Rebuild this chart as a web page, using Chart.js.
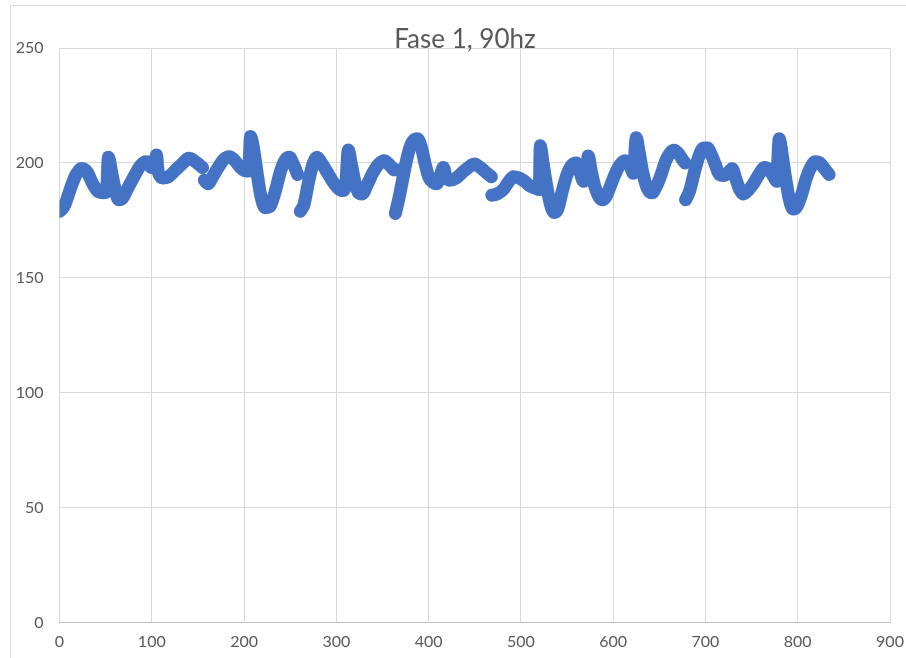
<!DOCTYPE html>
<html>
<head>
<meta charset="utf-8">
<script src="https://cdn.jsdelivr.net/npm/chart.js@4.4.1/dist/chart.umd.min.js"></script>
<style>
    html, body { margin: 0; padding: 0; background: #fff; overflow: hidden; }
    #frame { position: absolute; left: 10px; top: 5px; width: 1000px; height: 1000px; border: 1px solid #d9d9d9; pointer-events: none; }
    #wrap { position: absolute; left: 0; top: 0; width: 906px; height: 658px; }
</style>
</head>
<body>
<div id="wrap"><canvas id="chart"></canvas></div>
<div id="frame"></div>
<script>
const chartTitle = 'Fase 1, 90hz';
const xTicks = [0, 100, 200, 300, 400, 500, 600, 700, 800, 900];
const yTicks = [0, 50, 100, 150, 200, 250];

// segments of the measured trace (x, y); gaps between them
const seg1X = [0, 3, 6, 12, 18, 24, 30, 36, 42, 48, 51, 53, 56, 60, 64, 68, 74, 82, 88, 94, 100, 103, 105, 107, 112, 118, 126, 134, 140, 146, 152, 155];
const seg1Y = [179, 180, 182, 189, 195, 197.6, 196, 191, 187.5, 187, 187.5, 202.5, 197, 189, 184, 184.5, 189, 195, 199, 200.5, 198, 199, 203.5, 196, 193.5, 194, 197, 200, 202, 201, 199, 198];
const seg2X = [157, 161, 166, 172, 178, 184, 190, 196, 202, 205, 207, 210, 214, 218, 223, 228, 234, 240, 245, 249, 254, 258];
const seg2Y = [192.5, 191, 194, 198, 201.5, 202.7, 201, 198, 196.5, 196.5, 211.5, 207, 196, 186, 180.5, 181, 188, 197, 201.5, 202.5, 199, 195];
const seg3X = [261, 265, 270, 275, 279, 284, 290, 296, 302, 307, 310, 313, 316, 320, 324, 328, 334, 340, 346, 352, 358, 363, 365.5];
const seg3Y = [179, 182, 192, 200, 202.5, 200, 196, 192, 189, 188, 190, 205.6, 200, 192, 187, 186.5, 191, 196, 199.5, 201, 199, 197, 197];
const seg4X = [364, 368, 372, 376, 380, 384, 388, 392, 396, 400, 405, 409, 413, 416, 419, 423, 430, 437, 443, 450, 456, 462, 468];
const seg4Y = [178, 185, 193, 201, 207, 210, 210.5, 207, 200, 194, 191.5, 191, 195, 198, 194, 192.5, 193.5, 196, 198, 199.5, 198, 196, 194];
const seg5X = [468.5, 474, 481, 487, 492, 498, 504, 510, 516, 520, 521, 524, 528, 532, 536, 540, 545, 550, 555, 560, 564, 568, 571, 573, 576, 580, 585, 589, 593, 597, 602, 607, 613, 618, 622, 625, 628, 632, 637, 642, 647, 652, 657, 662, 666, 671, 675, 678];
const seg5Y = [186, 186.5, 188.5, 192, 194, 193.5, 192, 190, 189, 188.5, 207.5, 200, 190, 182, 178.5, 180, 188, 195, 199, 200, 196, 192, 195, 203, 197, 190, 185, 184, 186, 190, 195, 199, 201, 199, 195.5, 211, 205, 196, 189, 187, 190, 195, 201, 204.5, 205.5, 204, 201.5, 200];
const seg6X = [678.5, 683, 688, 693, 698, 702, 707, 711, 715, 720, 725, 729, 733, 737, 741, 746, 752, 758, 764, 769, 774, 777, 780, 783, 787, 791, 795, 799, 804, 809, 814, 819, 824, 829, 834];
const seg6Y = [184, 188, 196, 203, 206.5, 206.5, 203, 199, 195, 194.5, 196, 197.5, 193, 188.5, 186.5, 188, 191, 195, 198, 197, 194, 192, 210.5, 204, 193, 184, 180, 181, 186, 193, 198, 200.5, 200, 197.5, 195];

const segments = [[seg1X, seg1Y], [seg2X, seg2Y], [seg3X, seg3Y], [seg4X, seg4Y], [seg5X, seg5Y], [seg6X, seg6Y]];

function buildPoints() {
    let pts = [];
    segments.forEach(function (s, k) {
        if (k > 0) pts.push({ x: s[0][0] - 0.5, y: null });
        for (let i = 0; i < s[0].length; i++) {
            pts.push({ x: s[0][i], y: s[1][i] });
        }
    });
    return pts;
}

// title sits over the top of the plot, like the Excel original
const titlePlugin = {
    id: 'overlayTitle',
    afterDraw(chart) {
        const ctx = chart.ctx;
        ctx.save();
        ctx.font = '26px Lato';
        ctx.fillStyle = '#595959';
        ctx.textAlign = 'center';
        ctx.textBaseline = 'middle';
        ctx.fillText(chartTitle, 465, 40);
        ctx.restore();
    }
};

new Chart(document.getElementById('chart'), {
    type: 'line',
    data: {
        datasets: [{
            label: chartTitle,
            data: buildPoints(),
            borderColor: '#4472C4',
            borderWidth: 13,
            borderCapStyle: 'round',
            borderJoinStyle: 'round',
            pointRadius: 0,
            cubicInterpolationMode: 'monotone',
            spanGaps: false,
            fill: false
        }]
    },
    options: {
        responsive: true,
        maintainAspectRatio: false,
        animation: false,
        layout: { padding: { left: 0, right: 0, top: 48, bottom: -2 } },
        plugins: {
            legend: { display: false },
            tooltip: { enabled: false }
        },
        scales: {
            x: {
                type: 'linear',
                min: 0,
                max: 900,
                afterBuildTicks: function (axis) { axis.ticks = xTicks.map(v => ({ value: v })); },
                afterFit: function (axis) { axis.paddingRight = 16; },
                grid: { color: '#d9d9d9', drawTicks: false },
                border: { color: '#bfbfbf' },
                ticks: { color: '#595959', font: { family: 'Lato', size: 16 }, padding: 9, maxRotation: 0 }
            },
            y: {
                min: 0,
                max: 250,
                afterBuildTicks: function (axis) { axis.ticks = yTicks.map(v => ({ value: v })); },
                afterFit: function (axis) { axis.width = 59.5; },
                grid: { color: '#d9d9d9', drawTicks: false },
                border: { display: false },
                ticks: { color: '#595959', font: { family: 'Lato', size: 16 }, padding: 16 }
            }
        }
    },
    plugins: [titlePlugin]
});
</script>
</body>
</html>
